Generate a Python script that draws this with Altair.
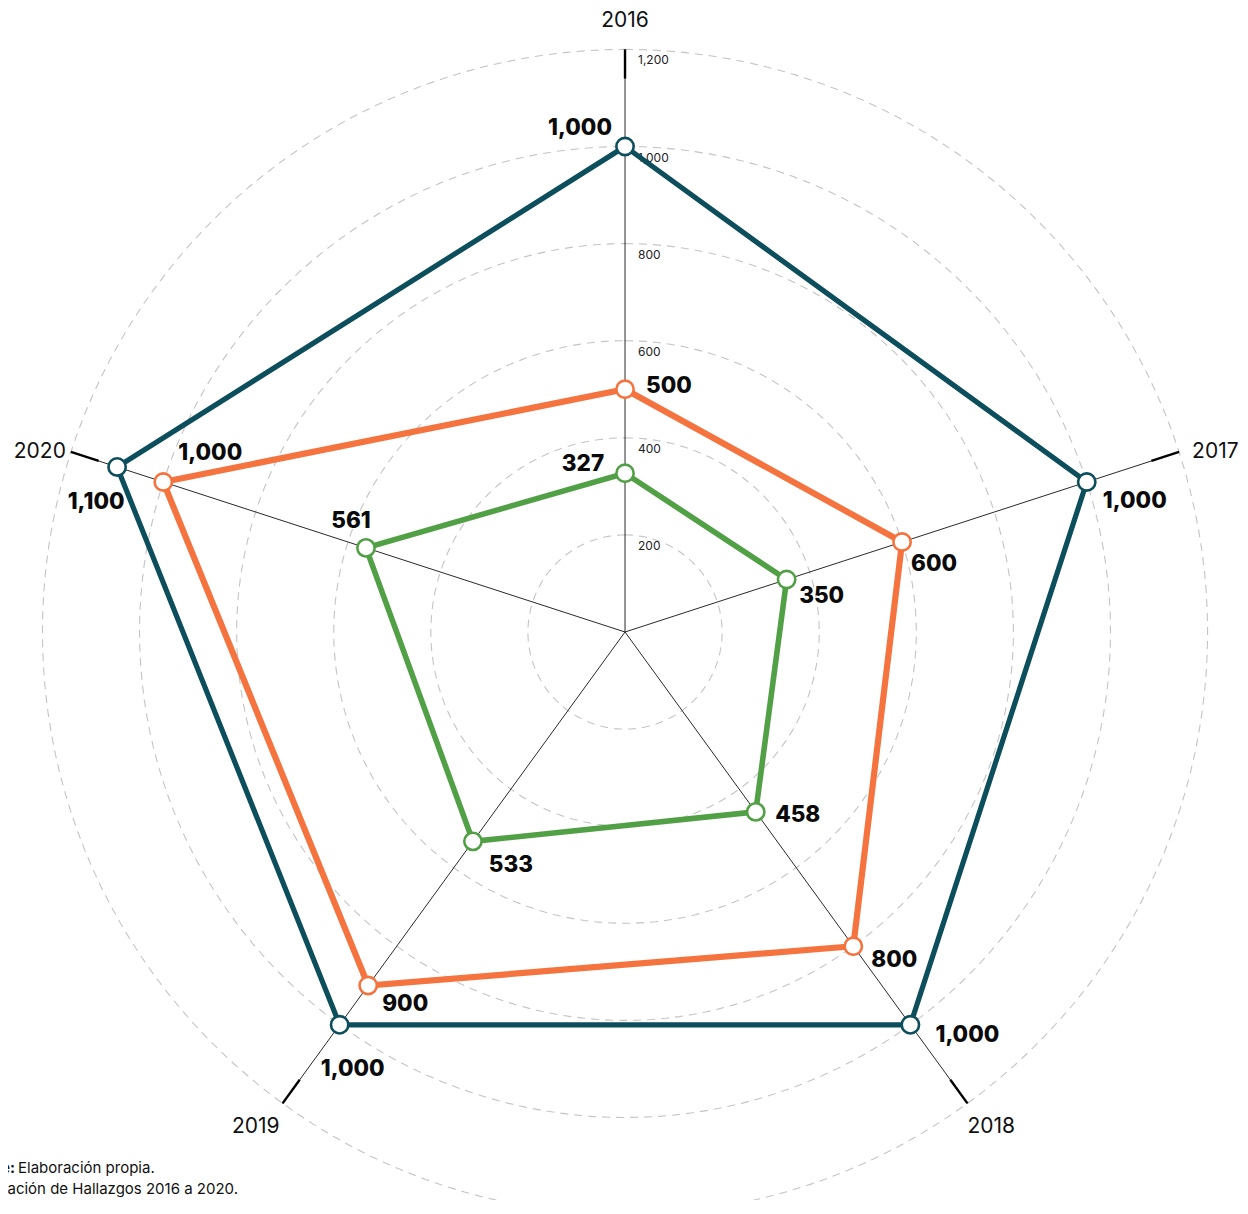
import altair as alt
import pandas as pd

years = ["2016", "2017", "2018", "2019", "2020"]
series_names = ["Serie A", "Serie B", "Serie C"]
serie_a = [1000, 1000, 1000, 1000, 1100]
serie_b = [500, 600, 800, 900, 1000]
serie_c = [327, 350, 458, 533, 561]
value_labels_a = ["1,000", "1,000", "1,000", "1,000", "1,100"]
value_labels_b = ["500", "600", "800", "900", "1,000"]
value_labels_c = ["327", "350", "458", "533", "561"]
grid_levels = [200, 400, 600, 800, 1000, 1200]
tick_labels = ["200", "400", "600", "800", "1,000", "1,200"]
max_value = 1200
source_bold = "Fuente:"
source_line1 = "Elaboración propia."
source_line2 = "Compilación de Hallazgos 2016 a 2020."

# styling (pixel offsets of value labels, kept apart from the data)
label_dx = {"Serie A": [-45, 48, 57, 13, -21],
            "Serie B": [44, 32, 41, 37, 47],
            "Serie C": [-42, 35, 42, 38, -15]}
label_dy = {"Serie A": [-19, 19, 10, 44, 35],
            "Serie B": [-3, 22, 14, 18, -29],
            "Serie C": [-9, 16, 3, 24, -27]}
colors = {"Serie A": "#0d4e5c", "Serie B": "#f4733f", "Serie C": "#52a046"}
widths = {"Serie A": 5.2, "Serie B": 6.2, "Serie C": 5.6}
# year label placement relative to spoke end: (align, dx, dy)
year_style = [("center", 0, -28), ("left", 13, 0), ("left", 0, 24),
              ("right", -3, 24), ("right", -5, 0)]

rows = []
for name, vals, labs in [("Serie A", serie_a, value_labels_a),
                         ("Serie B", serie_b, value_labels_b),
                         ("Serie C", serie_c, value_labels_c)]:
    for i, (y, v, l) in enumerate(zip(years, vals, labs)):
        rows.append({"serie": name, "year": y, "idx": i, "value": v, "label": l,
                     "dx": label_dx[name][i], "dy": label_dy[name][i]})
df = pd.DataFrame(rows)

axes_df = pd.DataFrame({"year": years, "idx": list(range(5))})
grid_df = pd.DataFrame({"r": grid_levels, "label": tick_labels})

W, H = 1232, 1192
xdom = [-1270.9, 1266.7]
ydom = [-1169.9, 1285.3]
K = W / (xdom[1] - xdom[0])  # pixels per unit
xs = alt.Scale(domain=xdom, nice=False, zero=False)
ys = alt.Scale(domain=ydom, nice=False, zero=False)

ang = "datum.idx * 2 * PI / 5"
polar = dict(px=f"datum.value * sin({ang})", py=f"datum.value * cos({ang})")

X = lambda f: alt.X(f, type="quantitative", scale=xs, axis=None)
Y = lambda f: alt.Y(f, type="quantitative", scale=ys, axis=None)

# grid circles
grid = alt.Chart(alt.sequence(0, 362, 2, as_="deg")).transform_calculate(
    r=str(grid_levels)
).transform_flatten(["r"]).transform_calculate(
    gx="datum.r * sin(datum.deg * PI / 180)",
    gy="datum.r * cos(datum.deg * PI / 180)",
).mark_line(stroke="#c4c4c4", strokeWidth=1.1, strokeDash=[8, 6]).encode(
    x=X("gx"), y=Y("gy"), detail="r:Q", order="deg:Q"
)

# spokes
spokes = alt.Chart(axes_df).transform_calculate(
    x0="0", y0="0",
    x1=f"{max_value} * sin({ang})", y1=f"{max_value} * cos({ang})",
).mark_rule(stroke="#111", strokeWidth=0.9).encode(
    x=X("x0"), y=Y("y0"), x2="x1:Q", y2="y1:Q"
)
spoke_ends = alt.Chart(axes_df).transform_calculate(
    x0=f"{max_value * 0.95} * sin({ang})", y0=f"{max_value * 0.95} * cos({ang})",
    x1=f"{max_value} * sin({ang})", y1=f"{max_value} * cos({ang})",
).mark_rule(stroke="#000", strokeWidth=2.4).encode(
    x=X("x0"), y=Y("y0"), x2="x1:Q", y2="y1:Q"
)

# axis (year) labels, one layer per year for its own alignment
year_layers = []
for i, (al, ddx, ddy) in enumerate(year_style):
    year_layers.append(
        alt.Chart(axes_df).transform_filter(f"datum.idx == {i}").transform_calculate(
            lx=f"{max_value} * sin({ang})", ly=f"{max_value} * cos({ang})",
        ).mark_text(font="Inter", fontSize=21, color="#111", align=al,
                    baseline="middle", dx=ddx, dy=ddy).encode(
            x=X("lx"), y=Y("ly"), text="year:N")
    )

# tick labels on 2016 axis
ticks = alt.Chart(grid_df).transform_calculate(tx="0").mark_text(
    font="Inter", fontSize=12, color="#222", align="left", baseline="middle",
    dx=13, dy=11
).encode(x=X("tx"), y=Y("r"), text="label:N")

color_scale = alt.Scale(domain=list(colors.keys()), range=list(colors.values()))

line_layers = []
for name in series_names:
    line_layers.append(
        alt.Chart(df).transform_filter(f"datum.serie == '{name}'")
        .transform_calculate(**polar).mark_line(
            interpolate="linear-closed", strokeWidth=widths[name], strokeJoin="miter"
        ).encode(x=X("px"), y=Y("py"), order="idx:Q",
                 color=alt.Color("serie:N", scale=color_scale, legend=None))
    )

points = alt.Chart(df).transform_calculate(**polar).mark_point(
    shape="circle", filled=True, fill="white", size=300, strokeWidth=2.6, opacity=1
).encode(x=X("px"), y=Y("py"),
         stroke=alt.Stroke("serie:N", scale=color_scale, legend=None))

value_text = alt.Chart(df).transform_calculate(**polar).transform_calculate(
    lx=f"datum.px + datum.dx / {K}", ly=f"datum.py - datum.dy / {K}"
).mark_text(
    font="Inter", fontSize=22.5, fontWeight=800, color="#0a0a0a",
    align="center", baseline="middle"
).encode(x=X("lx"), y=Y("ly"), text="label:N")

foot = pd.DataFrame({"t": [source_bold, source_line1, source_line2]})
foot_bold = alt.Chart(foot).transform_filter(f"datum.t == '{source_bold}'").mark_text(
    font="Inter", fontSize=15, fontWeight=700, color="#111", align="right",
    baseline="middle").encode(x=alt.value(7), y=alt.value(1160), text="t:N")
foot_l1 = alt.Chart(foot).transform_filter(f"datum.t == '{source_line1}'").mark_text(
    font="Inter", fontSize=15, color="#111", align="left",
    baseline="middle").encode(x=alt.value(10), y=alt.value(1160), text="t:N")
foot_l2 = alt.Chart(foot).transform_filter(f"datum.t == '{source_line2}'").mark_text(
    font="Inter", fontSize=15, color="#111", align="right",
    baseline="middle").encode(x=alt.value(230), y=alt.value(1181), text="t:N")

chart = alt.layer(
    grid, spokes, spoke_ends, *year_layers, ticks, *line_layers, points, value_text,
    foot_bold, foot_l1, foot_l2
).properties(
    width=W, height=H, autosize=alt.AutoSizeParams(type="none"), padding=0
).configure_view(stroke=None)

chart.save("out.html", embed_options={"renderer": "svg", "actions": False})
